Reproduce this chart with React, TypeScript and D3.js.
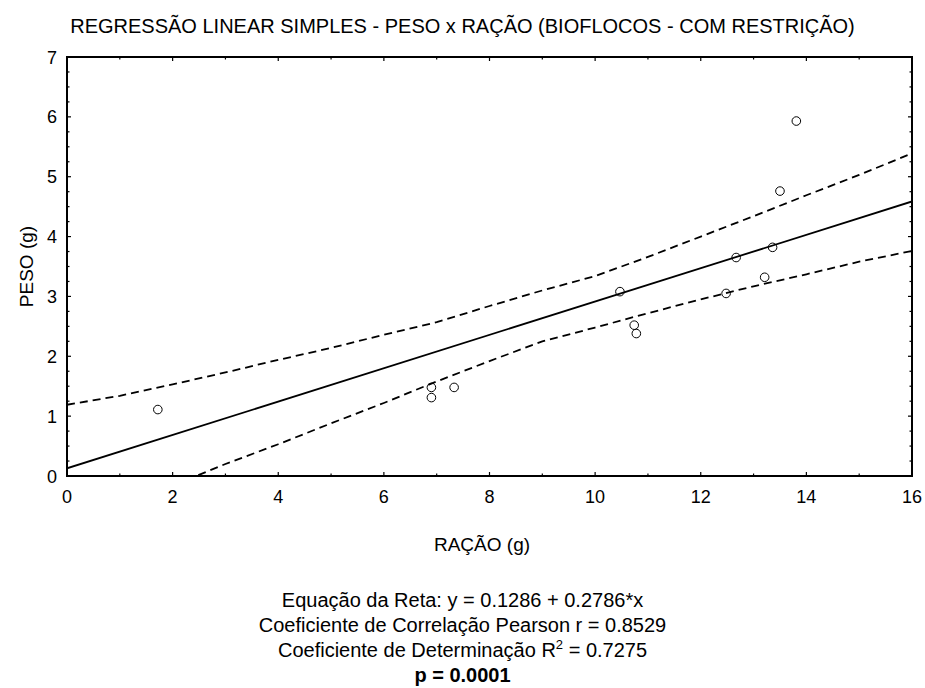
import React, { useEffect, useRef } from "react";
import * as d3 from "d3";

// observed points (ração x peso)
const racao = [1.72, 6.9, 6.9, 7.33, 10.47, 10.74, 10.78, 12.48, 12.67, 13.21, 13.36, 13.5, 13.81];
const peso = [1.11, 1.48, 1.31, 1.48, 3.08, 2.52, 2.38, 3.05, 3.65, 3.32, 3.82, 4.76, 5.93];

// regression line end points
const fitX = [0, 16];
const fitY = [0.1286, 4.5862];

// 95% band
const bandX = [0, 1, 2, 3, 4, 5, 6, 7, 8, 9, 10, 11, 12, 13, 14, 15, 16];
const bandUpper = [1.19, 1.34, 1.53, 1.73, 1.94, 2.14, 2.36, 2.57, 2.84, 3.1, 3.34, 3.66, 4.0, 4.34, 4.69, 5.03, 5.39];
const bandLower = [-0.93, -0.53, -0.16, 0.2, 0.53, 0.88, 1.22, 1.58, 1.92, 2.25, 2.48, 2.72, 2.95, 3.17, 3.37, 3.58, 3.76];

const xTicks = [0, 2, 4, 6, 8, 10, 12, 14, 16];
const yTicks = [0, 1, 2, 3, 4, 5, 6, 7];

const title = "REGRESSÃO LINEAR SIMPLES - PESO x RAÇÃO (BIOFLOCOS - COM RESTRIÇÃO)";
const xTitle = "RAÇÃO (g)";
const yTitle = "PESO (g)";
const statLines = [
  "Equação da Reta: y = 0.1286 + 0.2786*x",
  "Coeficiente de Correlação Pearson r = 0.8529",
];
const r2Text = ["Coeficiente de Determinação R", "2", " = 0.7275"];
const pText = "p = 0.0001";

const W = 925;
const H = 688;
const M = { left: 67, right: 912, top: 57, bottom: 476 };
const FONT = "'Liberation Sans', Arial, sans-serif";

const App = () => {
  const svgRef = useRef(null);

  useEffect(() => {
    const svg = d3.select(svgRef.current);
    svg.selectAll("*").remove();

    const x = d3.scaleLinear().domain([0, 16]).range([M.left, M.right]);
    const y = d3.scaleLinear().domain([0, 7]).range([M.bottom, M.top]);

    svg.append("rect").attr("width", W).attr("height", H).attr("fill", "#fff");

    // clip for the bands
    svg.append("clipPath").attr("id", "plotclip")
      .append("rect")
      .attr("x", M.left).attr("y", M.top)
      .attr("width", M.right - M.left).attr("height", M.bottom - M.top);

    const plot = svg.append("g").attr("clip-path", "url(#plotclip)");

    const line = d3.line()
      .x(d => x(d[0]))
      .y(d => y(d[1]));

    // confidence bands
    [bandUpper, bandLower].forEach(vals => {
      plot.append("path")
        .datum(bandX.map((v, i) => [v, vals[i]]))
        .attr("d", line)
        .attr("fill", "none")
        .attr("stroke", "#000")
        .attr("stroke-width", 1.8)
        .attr("stroke-dasharray", "8,5");
    });

    // fitted line
    plot.append("path")
      .datum(fitX.map((v, i) => [v, fitY[i]]))
      .attr("d", line)
      .attr("fill", "none")
      .attr("stroke", "#000")
      .attr("stroke-width", 1.8);

    // points
    plot.selectAll("circle")
      .data(racao.map((v, i) => [v, peso[i]]))
      .enter()
      .append("circle")
      .attr("cx", d => x(d[0]))
      .attr("cy", d => y(d[1]))
      .attr("r", 4.3)
      .attr("fill", "none")
      .attr("stroke", "#000")
      .attr("stroke-width", 1);

    // ticks, inward on all four sides
    const ticks = svg.append("g").attr("stroke", "#000").attr("stroke-width", 1.2);
    d3.range(0, 16.001, 1).forEach(v => {
      const len = v % 2 === 0 ? 4 : 2.5;
      ticks.append("line").attr("x1", x(v)).attr("x2", x(v))
        .attr("y1", M.bottom).attr("y2", M.bottom - len);
      ticks.append("line").attr("x1", x(v)).attr("x2", x(v))
        .attr("y1", M.top).attr("y2", M.top + len);
    });
    d3.range(0, 7.001, 0.25).forEach(v => {
      const len = Math.abs(v - Math.round(v)) < 1e-6 ? 4 : 2.5;
      ticks.append("line").attr("y1", y(v)).attr("y2", y(v))
        .attr("x1", M.left).attr("x2", M.left + len);
      ticks.append("line").attr("y1", y(v)).attr("y2", y(v))
        .attr("x1", M.right).attr("x2", M.right - len);
    });

    // frame
    svg.append("rect")
      .attr("x", M.left).attr("y", M.top)
      .attr("width", M.right - M.left).attr("height", M.bottom - M.top)
      .attr("fill", "none").attr("stroke", "#000").attr("stroke-width", 2);

    const text = svg.append("g").attr("font-family", FONT).attr("fill", "#000");

    // tick labels
    text.selectAll(".xt").data(xTicks).enter().append("text")
      .attr("x", d => x(d)).attr("y", 503)
      .attr("text-anchor", "middle").attr("font-size", 18)
      .text(d => d);
    text.selectAll(".yt").data(yTicks).enter().append("text")
      .attr("x", 57).attr("y", d => y(d) + 6.5)
      .attr("text-anchor", "end").attr("font-size", 18)
      .text(d => d);

    // titles
    text.append("text").attr("x", W / 2).attr("y", 33)
      .attr("text-anchor", "middle").attr("font-size", 20).text(title);
    text.append("text").attr("x", 482).attr("y", 551)
      .attr("text-anchor", "middle").attr("font-size", 19).text(xTitle);
    text.append("text")
      .attr("transform", `translate(33,${(M.top + M.bottom) / 2}) rotate(-90)`)
      .attr("text-anchor", "middle").attr("font-size", 19).text(yTitle);

    // statistics block
    statLines.forEach((s, i) => {
      text.append("text").attr("x", W / 2).attr("y", 607 + i * 25)
        .attr("text-anchor", "middle").attr("font-size", 20).text(s);
    });
    const r2 = text.append("text").attr("x", W / 2).attr("y", 657)
      .attr("text-anchor", "middle").attr("font-size", 20);
    r2.append("tspan").text(r2Text[0]);
    r2.append("tspan").attr("font-size", 13).attr("dy", -8).text(r2Text[1]);
    r2.append("tspan").attr("dy", 8).text(r2Text[2]);
    text.append("text").attr("x", W / 2).attr("y", 682)
      .attr("text-anchor", "middle").attr("font-size", 20)
      .attr("font-weight", "bold").text(pText);
  }, []);

  return (
    <svg
      ref={svgRef}
      width={W}
      height={H}
      style={{ position: "absolute", left: 0, top: 0 }}
    />
  );
};

export default App;
